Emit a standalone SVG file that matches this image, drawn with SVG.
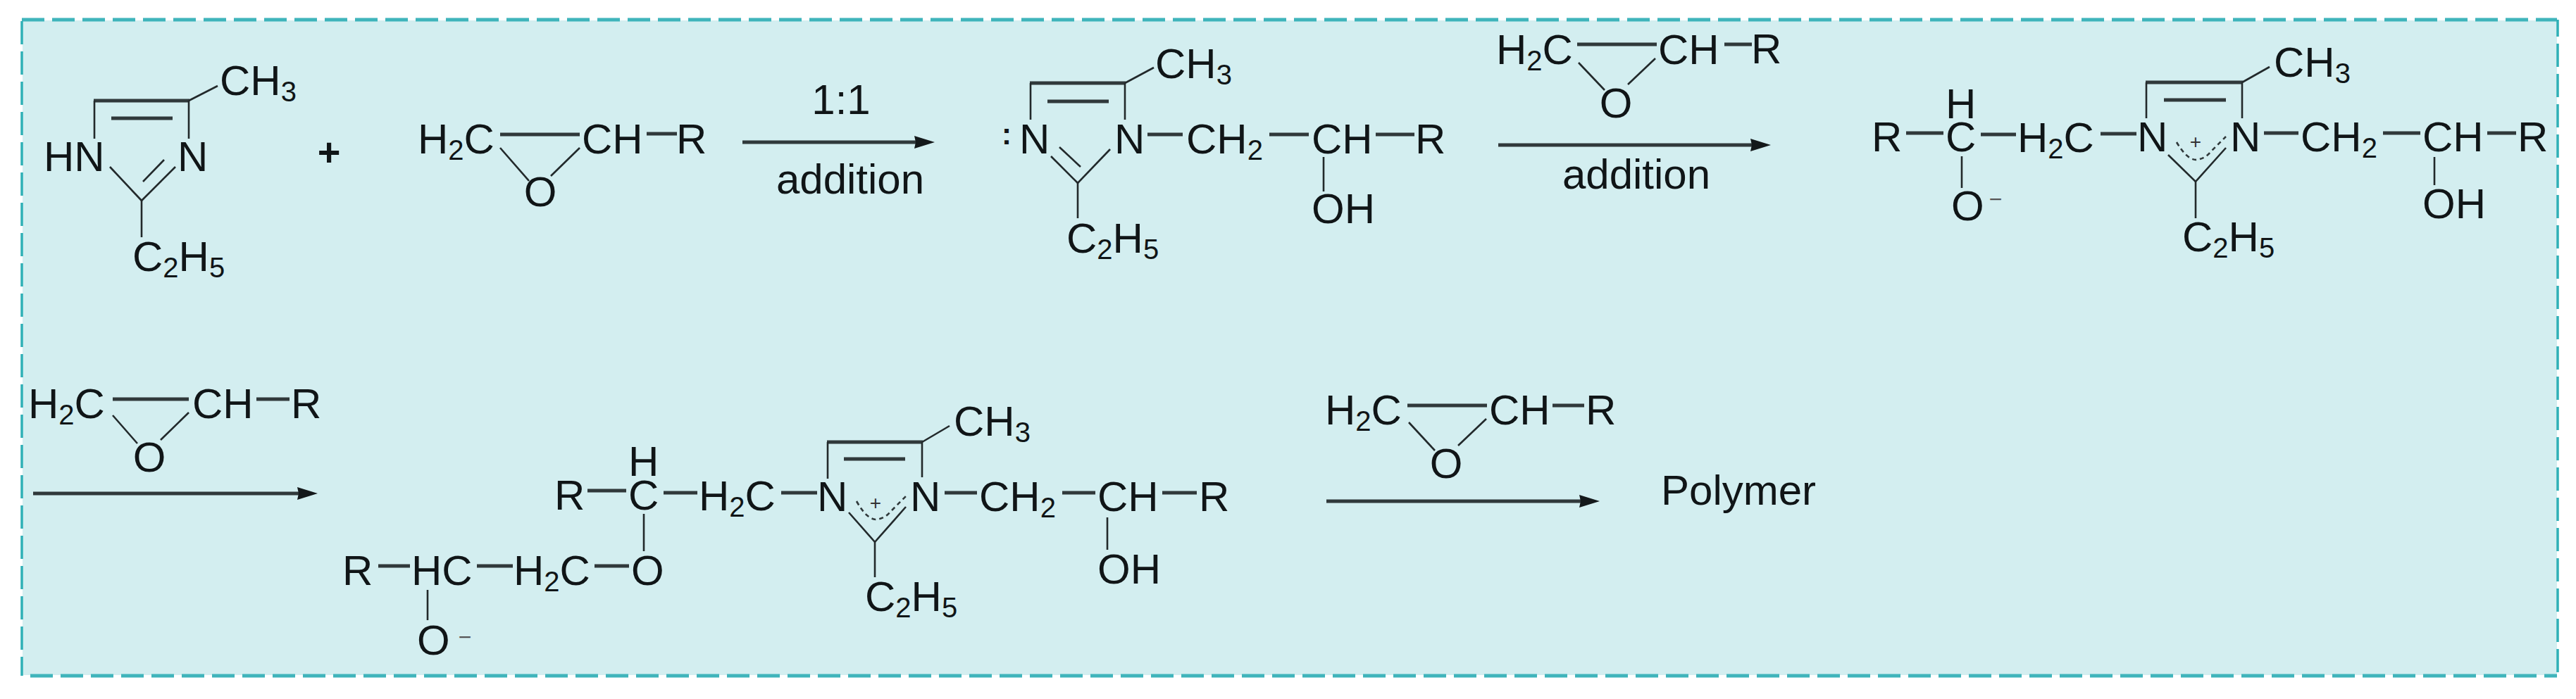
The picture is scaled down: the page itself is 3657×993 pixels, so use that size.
<svg xmlns="http://www.w3.org/2000/svg" width="3657" height="993" viewBox="0 0 3657 993">
<style>
text{font-family:"Liberation Sans",Arial,sans-serif;font-size:60px;fill:#101517}
.m{text-anchor:middle}
.sub{font-size:40px}
.plus{font-size:56px;font-weight:bold}
.chg{font-size:28px;fill:#333}
.neg{font-size:32px;fill:#555}
.lp{font-size:42px;font-weight:bold}
line,path.b{stroke-linecap:butt;fill:none}
.h{stroke:#30393b;stroke-width:5}
.s{stroke:#22292b;stroke-width:2.6}
.a{stroke:#30393b;stroke-width:5;marker-end:url(#ah)}
.fr{stroke:#3fb4bb;stroke-width:5;stroke-dasharray:32 11;fill:none}
.frv{stroke:#2fb0b6;stroke-width:3.5;stroke-dasharray:33 10;fill:none}
.d{stroke:#30393b;stroke-width:2.6;stroke-dasharray:6 5;fill:none}
</style>
<defs>
<marker id="ah" markerUnits="userSpaceOnUse" markerWidth="30" markerHeight="20" refX="19" refY="10" orient="auto"><path d="M0 1L29 10L0 19L2 10Z" fill="#14191b"/></marker>
</defs>
<g id="frame">
<rect x="32" y="29" width="3598" height="930" fill="#d3eef0"/>
<line class="fr" x1="31" y1="28" x2="3630" y2="28"/>
<line class="fr" x1="43" y1="960" x2="3630" y2="960"/>
<line class="frv" x1="31" y1="30" x2="31" y2="960"/>
<line class="frv" x1="3631" y1="28" x2="3631" y2="958" stroke-dashoffset="9"/>
</g>
<g id="connectors">
<line class="a" x1="1054" y1="202" x2="1317" y2="202"/>
<line class="a" x1="2127" y1="206" x2="2504" y2="206"/>
<line class="a" x1="47" y1="701" x2="441" y2="701"/>
<line class="a" x1="1883" y1="712" x2="2261" y2="712"/>
</g>
<g id="imidazole">
<line class="h" x1="133" y1="143" x2="269" y2="143"/>
<line class="s" x1="134" y1="143" x2="134" y2="197"/>
<line class="s" x1="268" y1="143" x2="268" y2="197"/>
<line class="h" x1="158" y1="168" x2="245" y2="168"/>
<line class="s" x1="268" y1="143" x2="309" y2="122"/>
<line class="s" x1="156" y1="237" x2="201" y2="285"/>
<line class="s" x1="249" y1="237" x2="201" y2="285"/>
<line class="s" x1="233" y1="227" x2="203" y2="258"/>
<line class="s" x1="201" y1="285" x2="201" y2="337"/>
<text x="312" y="135">CH<tspan class="sub" dy="9">3</tspan></text>
<text x="62" y="243">HN</text>
<text x="252" y="243">N</text>
<text x="188" y="385">C<tspan class="sub" dy="9">2</tspan><tspan dy="-9">H</tspan><tspan class="sub" dy="9">5</tspan></text>
</g>
<g id="plus"><text class="plus m" x="467" y="235">+</text></g>
<g id="epoxide-1">
<line class="h" x1="710" y1="191" x2="823" y2="191"/>
<line class="s" x1="710" y1="210" x2="751" y2="257"/>
<line class="s" x1="823" y1="210" x2="782" y2="250"/>
<line class="h" x1="918" y1="190" x2="961" y2="190"/>
<text x="593" y="218">H<tspan class="sub" dy="9">2</tspan><tspan dy="-9">C</tspan></text>
<text x="826" y="218">CH</text>
<text x="960" y="218">R</text>
<text class="m" x="767" y="293">O</text>
</g>
<g id="label-1">
<text class="m" x="1194" y="162">1:1</text>
<text class="m" x="1207" y="275">addition</text>
</g>
<g id="adduct">
<line class="h" x1="1462" y1="118" x2="1598" y2="118"/>
<line class="s" x1="1463" y1="118" x2="1463" y2="170"/>
<line class="s" x1="1597" y1="118" x2="1597" y2="170"/>
<line class="h" x1="1487" y1="144" x2="1574" y2="144"/>
<line class="s" x1="1597" y1="118" x2="1638" y2="96"/>
<line class="s" x1="1492" y1="222" x2="1530" y2="260"/>
<line class="s" x1="1576" y1="212" x2="1530" y2="260"/>
<line class="s" x1="1504" y1="209" x2="1534" y2="237"/>
<line class="s" x1="1530" y1="260" x2="1530" y2="310"/>
<line class="h" x1="1629" y1="191" x2="1679" y2="191"/>
<line class="h" x1="1802" y1="191" x2="1858" y2="191"/>
<line class="h" x1="1953" y1="191" x2="2008" y2="191"/>
<line class="s" x1="1879" y1="223" x2="1879" y2="272"/>
<text x="1640" y="111">CH<tspan class="sub" dy="9">3</tspan></text>
<text class="lp m" x="1429" y="205">:</text>
<text x="1447" y="218">N</text>
<text x="1582" y="218">N</text>
<text x="1514" y="359">C<tspan class="sub" dy="9">2</tspan><tspan dy="-9">H</tspan><tspan class="sub" dy="9">5</tspan></text>
<text x="1684" y="218">CH<tspan class="sub" dy="9">2</tspan></text>
<text x="1862" y="218">CH</text>
<text x="2009" y="218">R</text>
<text x="1862" y="317">OH</text>
</g>
<g id="epoxide-2">
<line class="h" x1="2239" y1="63" x2="2352" y2="63"/>
<line class="s" x1="2241" y1="89" x2="2278" y2="128"/>
<line class="s" x1="2350" y1="83" x2="2311" y2="120"/>
<line class="h" x1="2448" y1="63" x2="2487" y2="63"/>
<text x="2124" y="91">H<tspan class="sub" dy="9">2</tspan><tspan dy="-9">C</tspan></text>
<text x="2354" y="91">CH</text>
<text x="2486" y="90">R</text>
<text class="m" x="2294" y="167">O</text>
</g>
<g id="label-2"><text class="m" x="2323" y="268">addition</text></g>
<g id="zwitterion-1">
<line class="h" x1="2706" y1="189" x2="2759" y2="189"/>
<line class="h" x1="2812" y1="191" x2="2862" y2="191"/>
<line class="h" x1="2982" y1="190" x2="3033" y2="190"/>
<line class="h" x1="3046" y1="117" x2="3184" y2="117"/>
<line class="s" x1="3047" y1="117" x2="3047" y2="168"/>
<line class="s" x1="3183" y1="117" x2="3183" y2="168"/>
<line class="h" x1="3072" y1="142" x2="3160" y2="142"/>
<line class="s" x1="3183" y1="117" x2="3222" y2="95"/>
<line class="s" x1="3078" y1="220" x2="3117" y2="258"/>
<line class="s" x1="3160" y1="210" x2="3117" y2="258"/>
<line class="s" x1="3117" y1="258" x2="3117" y2="310"/>
<path class="d" d="M3090 202Q3104 226 3117 227Q3130 226 3138 216L3160 194"/>
<line class="h" x1="3214" y1="189" x2="3263" y2="189"/>
<line class="h" x1="3383" y1="189" x2="3436" y2="189"/>
<line class="h" x1="3531" y1="189" x2="3572" y2="189"/>
<line class="s" x1="3456" y1="223" x2="3456" y2="263"/>
<line class="s" x1="2785" y1="222" x2="2785" y2="267"/>
<text x="2657" y="215">R</text>
<text x="2762" y="215">C</text>
<text x="2762" y="168">H</text>
<text x="2864" y="216">H<tspan class="sub" dy="9">2</tspan><tspan dy="-9">C</tspan></text>
<text x="3034" y="215">N</text>
<text x="3166" y="215">N</text>
<text class="chg m" x="3117" y="211">+</text>
<text x="3228" y="109">CH<tspan class="sub" dy="9">3</tspan></text>
<text x="3098" y="357">C<tspan class="sub" dy="9">2</tspan><tspan dy="-9">H</tspan><tspan class="sub" dy="9">5</tspan></text>
<text x="3266" y="215">CH<tspan class="sub" dy="9">2</tspan></text>
<text x="3439" y="215">CH</text>
<text x="3574" y="215">R</text>
<text x="3439" y="310">OH</text>
<text x="2770" y="313">O</text>
<text class="neg m" x="2833" y="294">−</text>
</g>
<g id="epoxide-3">
<line class="h" x1="160" y1="567" x2="268" y2="567"/>
<line class="s" x1="160" y1="590" x2="195" y2="630"/>
<line class="s" x1="268" y1="586" x2="228" y2="625"/>
<line class="h" x1="364" y1="567" x2="411" y2="567"/>
<text x="40" y="594">H<tspan class="sub" dy="9">2</tspan><tspan dy="-9">C</tspan></text>
<text x="273" y="594">CH</text>
<text x="413" y="594">R</text>
<text class="m" x="212" y="670">O</text>
</g>
<g id="zwitterion-2">
<line class="h" x1="834" y1="697" x2="889" y2="697"/>
<line class="h" x1="942" y1="700" x2="990" y2="700"/>
<line class="h" x1="1109" y1="700" x2="1160" y2="700"/>
<line class="s" x1="914" y1="730" x2="914" y2="783"/>
<line class="h" x1="537" y1="804" x2="582" y2="804"/>
<line class="h" x1="677" y1="804" x2="728" y2="804"/>
<line class="h" x1="844" y1="804" x2="893" y2="804"/>
<line class="s" x1="607" y1="838" x2="607" y2="881"/>
<line class="h" x1="1174" y1="628" x2="1310" y2="628"/>
<line class="s" x1="1175" y1="628" x2="1175" y2="680"/>
<line class="s" x1="1309" y1="628" x2="1309" y2="678"/>
<line class="h" x1="1198" y1="652" x2="1285" y2="652"/>
<line class="s" x1="1309" y1="628" x2="1348" y2="605"/>
<line class="s" x1="1205" y1="728" x2="1242" y2="770"/>
<line class="s" x1="1286" y1="720" x2="1242" y2="770"/>
<line class="s" x1="1242" y1="770" x2="1242" y2="820"/>
<path class="d" d="M1216 712Q1230 737 1243 738Q1256 737 1264 727L1286 705"/>
<line class="h" x1="1341" y1="700" x2="1387" y2="700"/>
<line class="h" x1="1508" y1="700" x2="1555" y2="700"/>
<line class="h" x1="1650" y1="700" x2="1699" y2="700"/>
<line class="s" x1="1572" y1="735" x2="1572" y2="781"/>
<text x="787" y="724">R</text>
<text x="892" y="724">C</text>
<text x="892" y="676">H</text>
<text x="992" y="725">H<tspan class="sub" dy="9">2</tspan><tspan dy="-9">C</tspan></text>
<text x="1160" y="726">N</text>
<text x="1292" y="726">N</text>
<text class="chg m" x="1243" y="724">+</text>
<text x="1354" y="619">CH<tspan class="sub" dy="9">3</tspan></text>
<text x="1228" y="868">C<tspan class="sub" dy="9">2</tspan><tspan dy="-9">H</tspan><tspan class="sub" dy="9">5</tspan></text>
<text x="1390" y="726">CH<tspan class="sub" dy="9">2</tspan></text>
<text x="1558" y="726">CH</text>
<text x="1702" y="726">R</text>
<text x="1558" y="829">OH</text>
<text x="486" y="831">R</text>
<text x="584" y="831">HC</text>
<text x="729" y="831">H<tspan class="sub" dy="9">2</tspan><tspan dy="-9">C</tspan></text>
<text x="896" y="831">O</text>
<text x="592" y="930">O</text>
<text class="neg m" x="660" y="916">−</text>
</g>
<g id="epoxide-4">
<line class="h" x1="1998" y1="576" x2="2111" y2="576"/>
<line class="s" x1="2000" y1="600" x2="2037" y2="640"/>
<line class="s" x1="2110" y1="595" x2="2070" y2="633"/>
<line class="h" x1="2204" y1="576" x2="2249" y2="576"/>
<text x="1881" y="603">H<tspan class="sub" dy="9">2</tspan><tspan dy="-9">C</tspan></text>
<text x="2114" y="603">CH</text>
<text x="2251" y="603">R</text>
<text class="m" x="2053" y="679">O</text>
</g>
<g id="polymer"><text x="2358" y="717">Polymer</text></g>
</svg>
